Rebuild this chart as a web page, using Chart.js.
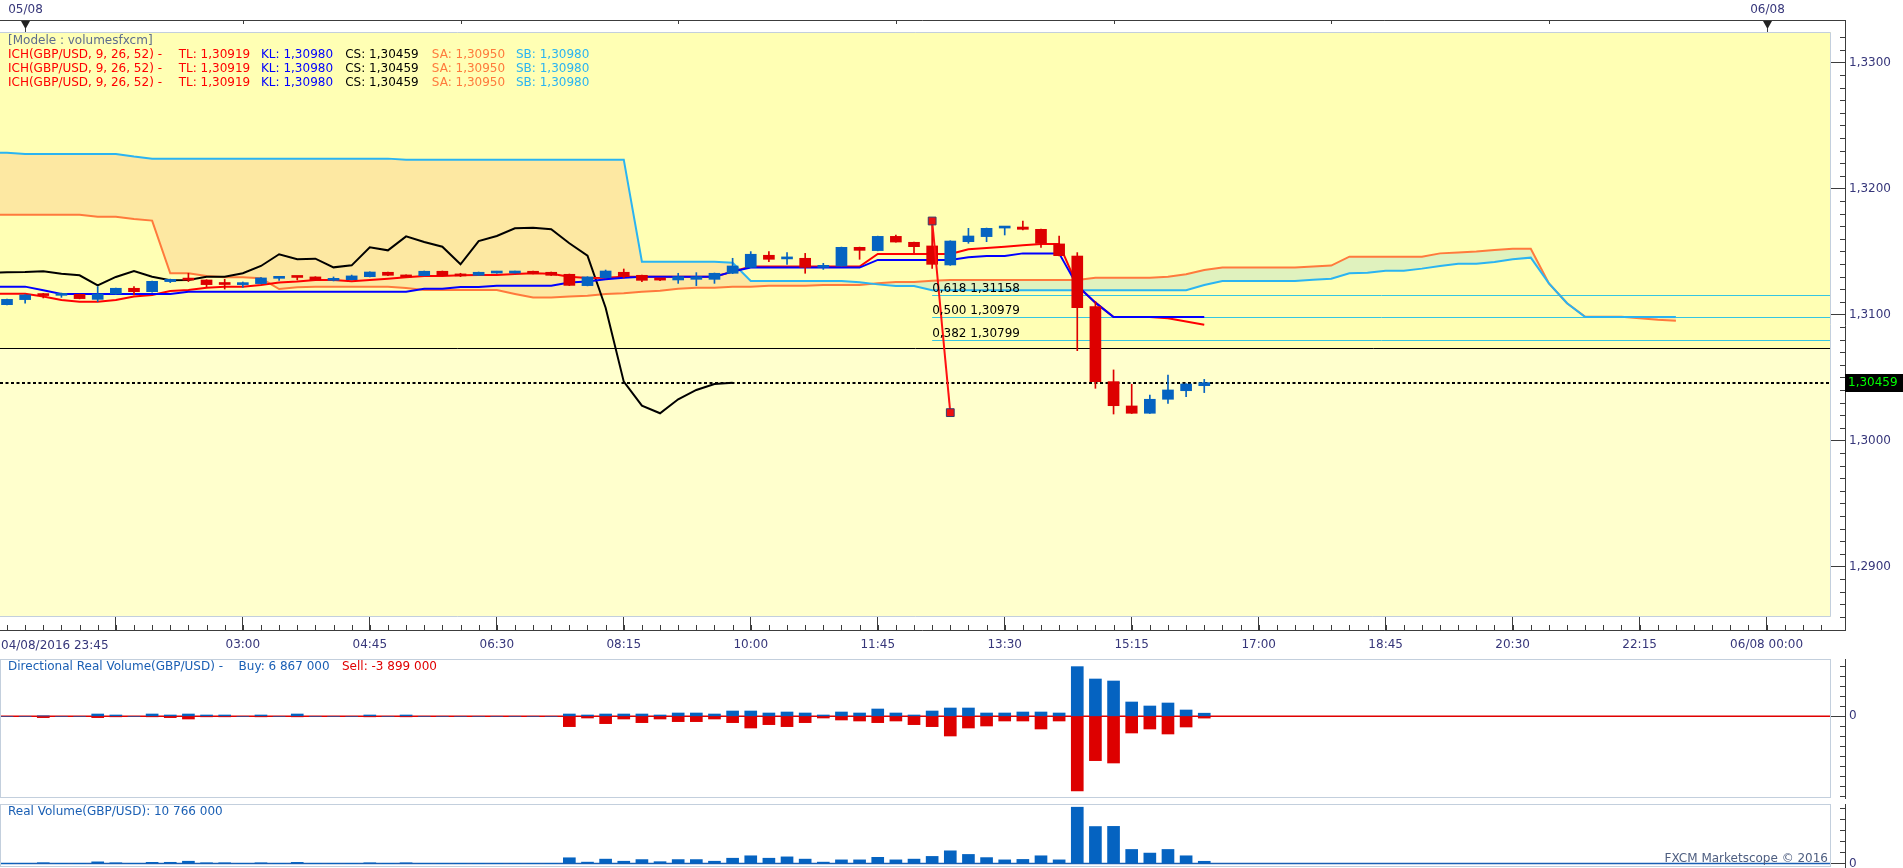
<!DOCTYPE html>
<html><head><meta charset="utf-8">
<script src="https://cdn.jsdelivr.net/npm/chart.js@4.4.1/dist/chart.umd.min.js"></script>
<style>
html,body{margin:0;padding:0;background:#fff;overflow:hidden;}
#wrap{position:relative;width:1903px;height:868px;background:#fff;}
canvas{position:absolute;left:0;}
</style></head><body>
<div id="wrap">
<canvas id="c0" width="1903" height="655" style="top:0px"></canvas>
<canvas id="c1" width="1903" height="145" style="top:655px"></canvas>
<canvas id="c2" width="1903" height="68" style="top:800px"></canvas>
</div>
<script>
// ---------------- DATA ----------------
// bar index 0 = 04/08/2016 23:45, one bar per 15 minutes
const xMin = -0.386, xMax = 100.55;
const xMajorIdx = [6, 13, 20, 27, 34, 41, 48, 55, 62, 69, 76, 83, 90, 97];
const xTickLabels = ['', '03:00', '04:45', '06:30', '08:15', '10:00', '11:45', '13:30', '15:15', '17:00', '18:45', '20:30', '22:15', '06/08 00:00'];
const firstBarLabel = '04/08/2016 23:45';
const topTickIdx = [1, 13, 25, 37, 49, 61, 73, 85, 97];
const dayMarkIdx = [1, 97];
const dayMarkLabels = ['05/08', '06/08'];

const priceMin = 1.28599, priceMax = 1.33242;
const priceTicks = [1.29, 1.30, 1.31, 1.32, 1.33];

const open = [
1.31078,1.31118,1.31153,1.31152,1.31160,1.31120,1.31163,1.31208,1.31181,1.31261,
1.31275,1.31274,1.31240,1.31237,1.31245,1.31287,1.31296,1.31298,1.31271,1.31276,
1.31300,1.31335,1.31313,1.31308,1.31343,1.31321,1.31311,1.31329,1.31329,1.31343,
1.31335,1.31319,1.31229,1.31292,1.31335,1.31311,1.31275,1.31274,1.31279,1.31279,
1.31327,1.31374,1.31470,1.31441,1.31446,1.31374,1.31385,1.31533,1.31507,1.31620,
1.31573,1.31544,1.31393,1.31578,1.31618,1.31686,1.31694,1.31676,1.31560,1.31464,
1.31062,1.30467,1.30274,1.30216,1.30327,1.30395,1.30435];
const high = [
1.31122,1.31157,1.31168,1.31170,1.31162,1.31221,1.31210,1.31221,1.31265,1.31281,
1.31327,1.31276,1.31279,1.31258,1.31292,1.31300,1.31298,1.31300,1.31298,1.31313,
1.31339,1.31337,1.31315,1.31345,1.31345,1.31327,1.31337,1.31343,1.31345,1.31345,
1.31337,1.31321,1.31300,1.31353,1.31361,1.31313,1.31279,1.31327,1.31332,1.31329,
1.31446,1.31499,1.31499,1.31491,1.31485,1.31406,1.31535,1.31535,1.31622,1.31631,
1.31575,1.31742,1.31585,1.31684,1.31686,1.31690,1.31742,1.31678,1.31623,1.31491,
1.31102,1.30560,1.30446,1.30361,1.30520,1.30450,1.30485];
const low = [
1.31075,1.31089,1.31131,1.31136,1.31124,1.31102,1.31160,1.31155,1.31178,1.31253,
1.31261,1.31221,1.31202,1.31216,1.31242,1.31271,1.31274,1.31272,1.31266,1.31274,
1.31298,1.31309,1.31296,1.31306,1.31306,1.31300,1.31309,1.31327,1.31327,1.31322,
1.31309,1.31229,1.31227,1.31290,1.31290,1.31261,1.31268,1.31247,1.31229,1.31247,
1.31324,1.31372,1.31419,1.31398,1.31327,1.31358,1.31383,1.31438,1.31505,1.31573,
1.31491,1.31366,1.31390,1.31565,1.31578,1.31631,1.31671,1.31533,1.31465,1.30713,
1.30414,1.30210,1.30214,1.30214,1.30295,1.30348,1.30380];
const close = [
1.31120,1.31155,1.31150,1.31168,1.31126,1.31163,1.31208,1.31181,1.31263,1.31279,
1.31273,1.31237,1.31238,1.31250,1.31290,1.31298,1.31294,1.31274,1.31282,1.31306,
1.31337,1.31311,1.31298,1.31343,1.31308,1.31306,1.31335,1.31337,1.31343,1.31324,
1.31311,1.31231,1.31298,1.31345,1.31300,1.31271,1.31273,1.31300,1.31300,1.31327,
1.31385,1.31478,1.31438,1.31443,1.31374,1.31390,1.31533,1.31509,1.31620,1.31575,
1.31538,1.31398,1.31583,1.31623,1.31684,1.31689,1.31676,1.31565,1.31467,1.31054,
1.30467,1.30276,1.30216,1.30327,1.30401,1.30448,1.30459];

// Ichimoku lines, first value is at bar index -1
const ichiStart = -1;
const tenkan = [
1.31165,1.31165,1.31165,1.31142,1.31115,1.31102,1.31102,1.31115,1.31142,1.31155,
1.31187,1.31194,1.31213,1.31221,1.31221,1.31234,1.31253,1.31261,1.31274,1.31274,
1.31263,1.31274,1.31284,1.31295,1.31306,1.31306,1.31311,1.31313,1.31313,1.31321,
1.31327,1.31324,1.31300,1.31290,1.31292,1.31300,1.31300,1.31300,1.31300,1.31300,
1.31300,1.31340,1.31380,1.31380,1.31380,1.31380,1.31380,1.31380,1.31380,1.31480,
1.31480,1.31480,1.31480,1.31480,1.31517,1.31528,1.31538,1.31549,1.31560,1.31560,
1.31229,1.31094,1.30980,1.30980,1.30980,1.30970,1.30944,1.30919];
const kijun = [
1.31221,1.31221,1.31221,1.31192,1.31163,1.31163,1.31163,1.31163,1.31163,1.31163,
1.31163,1.31181,1.31181,1.31181,1.31181,1.31181,1.31181,1.31181,1.31181,1.31181,
1.31181,1.31181,1.31181,1.31181,1.31205,1.31205,1.31218,1.31218,1.31229,1.31229,
1.31229,1.31229,1.31253,1.31261,1.31279,1.31292,1.31300,1.31300,1.31300,1.31300,
1.31300,1.31340,1.31372,1.31372,1.31372,1.31372,1.31372,1.31372,1.31372,1.31433,
1.31433,1.31433,1.31433,1.31433,1.31454,1.31464,1.31464,1.31485,1.31485,1.31485,
1.31229,1.31094,1.30980,1.30980,1.30980,1.30980,1.30980,1.30980];
const chikou = [
1.31330,1.31335,1.31337,1.31343,1.31324,1.31311,1.31231,1.31298,1.31345,1.31300,
1.31271,1.31273,1.31300,1.31300,1.31327,1.31385,1.31478,1.31438,1.31443,1.31374,
1.31390,1.31533,1.31509,1.31620,1.31575,1.31538,1.31398,1.31583,1.31623,1.31684,
1.31689,1.31676,1.31565,1.31467,1.31054,1.30467,1.30276,1.30216,1.30327,1.30401,
1.30448,1.30459];
const senkouA = [
1.31792,1.31792,1.31792,1.31792,1.31792,1.31792,1.31776,1.31776,1.31758,1.31745,
1.31327,1.31327,1.31306,1.31295,1.31295,1.31287,1.31202,1.31216,1.31221,1.31221,
1.31221,1.31221,1.31221,1.31210,1.31194,1.31194,1.31194,1.31194,1.31194,1.31163,
1.31134,1.31134,1.31142,1.31149,1.31163,1.31168,1.31181,1.31189,1.31205,1.31213,
1.31213,1.31221,1.31221,1.31229,1.31229,1.31229,1.31234,1.31234,1.31234,1.31247,
1.31258,1.31258,1.31268,1.31274,1.31274,1.31274,1.31274,1.31274,1.31274,1.31274,
1.31274,1.31292,1.31292,1.31292,1.31292,1.31300,1.31319,1.31353,1.31372,1.31372,
1.31372,1.31372,1.31372,1.31380,1.31388,1.31459,1.31459,1.31459,1.31459,1.31459,
1.31485,1.31491,1.31499,1.31512,1.31522,1.31522,1.31247,1.31089,1.30982,1.30982,
1.30982,1.30970,1.30958,1.30950];
const senkouB = [
1.32284,1.32284,1.32274,1.32274,1.32274,1.32274,1.32274,1.32274,1.32253,1.32237,
1.32237,1.32237,1.32237,1.32237,1.32237,1.32237,1.32237,1.32237,1.32237,1.32237,
1.32237,1.32237,1.32237,1.32229,1.32229,1.32229,1.32229,1.32229,1.32229,1.32229,
1.32229,1.32229,1.32229,1.32229,1.32229,1.32229,1.31419,1.31419,1.31419,1.31419,
1.31419,1.31411,1.31266,1.31266,1.31266,1.31266,1.31266,1.31266,1.31255,1.31239,
1.31226,1.31226,1.31192,1.31192,1.31192,1.31192,1.31192,1.31192,1.31192,1.31192,
1.31192,1.31192,1.31192,1.31192,1.31192,1.31192,1.31192,1.31234,1.31266,1.31266,
1.31266,1.31266,1.31266,1.31276,1.31284,1.31327,1.31332,1.31348,1.31348,1.31364,
1.31385,1.31403,1.31403,1.31417,1.31438,1.31451,1.31247,1.31089,1.30980,1.30980,
1.30980,1.30980,1.30980,1.30980];

// Fibonacci retracement
const fibAnchorIdx = [51, 52];
const fibAnchorPrice = [1.31742, 1.30221];
const fibRatios = ['0,618', '0,500', '0,382'];
const fibPrices = [1.31158, 1.30979, 1.30799];
const levelPrice = 1.30732;   // black horizontal line
const lastPrice = 1.30459;    // dotted last-price line

// Volumes (millions), bar index 0..66
const buyVol = [
0,0,0.8,0,0,5.1,2.9,0,5.1,2.9,
5.1,2.9,2.9,0,2.9,0,5.1,0,0,0,
2.9,0,2.9,0,0,0,0,0,0,0,
0,5.1,2.9,5.1,5.1,5.1,2.9,7.3,7.3,5.1,
11.7,11.7,7.3,9.5,7.3,2.9,9.5,7.3,16.1,7.3,
2.9,11.7,18.3,18.3,7.3,7.3,9.5,9.5,7.3,109.3,
82.1,77.7,31.5,22.7,29.3,13.9,6.867];
const sellVol = [
0,0,2.9,0,0,2.9,0.5,0,0.6,2.9,
5.9,0.5,0.5,0,0.4,0,0.4,0,0,0,
0.4,0,0.4,0,0,0,0,0,0,0,
0,22.7,3.7,16.1,5.9,13.9,5.9,11.7,11.7,5.9,
13.9,25.7,18.3,22.7,13.9,3.7,8.1,10.3,13.9,10.3,
18.3,22.7,43.3,25.7,21.3,10.3,10.3,27.9,10.3,164.3,
97.5,102.7,36.7,27.9,38.9,23.5,3.899];
const totalVol = [
0,0,3.7,0,0,8.0,3.4,0,5.7,5.8,
11.0,3.4,3.4,0,3.3,0,5.5,0,0,0,
3.3,0,3.3,0,0,0,0,0,0,0,
0,27.8,6.6,21.2,11.0,19.0,8.8,19.0,19.0,11.0,
25.6,37.4,25.6,32.2,21.2,6.6,17.6,17.6,30.0,17.6,
21.2,34.4,61.6,44.0,28.6,17.6,19.8,37.4,17.6,273.6,
179.6,180.4,68.2,50.6,68.2,37.4,10.766];
const dirVolMin = -177.5, dirVolMax = 123.9, dirVolMinorStep = 22;
const realVolMin = -12.2, realVolMax = 284.3, realVolMinorStep = 54;

// Texts
const headerModel = '[Modele : volumesfxcm]';
const headerSegs = [
  ['ICH(GBP/USD, 9, 26, 52) -', '#ff0000'],
  ['TL: 1,30919', '#ff0000'],
  ['KL: 1,30980', '#0000ff'],
  ['CS: 1,30459', '#000000'],
  ['SA: 1,30950', '#ff7a3c'],
  ['SB: 1,30980', '#2ab4f2']];
const dirTitle = ['Directional Real Volume(GBP/USD) -', 'Buy: 6 867 000', 'Sell: -3 899 000'];
const realTitle = 'Real Volume(GBP/USD): 10 766 000';
const watermark = 'FXCM Marketscope \u00A9 2016';

// ---------------- STYLE ----------------
const FAM = '"DejaVu Sans", Verdana, sans-serif';
const F12 = '12px ' + FAM;
const BLUE = '#0563c1', RED = '#dd0000';
const AXIS_TXT = '#36367a', AXIS_LINE = '#3c3c3c', PANEL_BORDER = '#c3cfdd';
const BG_UPPER = '#ffffb4', BG_LOWER = '#ffffcd';
const CLOUD_UP = '#e0f2be', CLOUD_DOWN = '#fde8a2';
const FIB_COLOR = '#36c6e2';
const VOL_TXT = '#1a5fb4';
const RIGHT_AXIS_X = 1845.5;

Chart.defaults.font.family = FAM;
Chart.defaults.font.size = 12;

const fmtPrice = (v, d) => v.toFixed(d).replace('.', ',');
const xy = (arr, start) => arr.map((v, k) => ({x: start + k, y: v}));
const isUp = k => close[k] >= open[k];

function text(ctx, s, x, y, color, align, base) {
  ctx.fillStyle = color; ctx.textAlign = align || 'left'; ctx.textBaseline = base || 'middle';
  ctx.font = F12; ctx.fillText(s, x, y);
}
function hline(ctx, x1, x2, y) { ctx.beginPath(); ctx.moveTo(x1, y); ctx.lineTo(x2, y); ctx.stroke(); }
function vline(ctx, x, y1, y2) { ctx.beginPath(); ctx.moveTo(x, y1); ctx.lineTo(x, y2); ctx.stroke(); }
function fitX(h) { return s => { s.height = h; s.paddingLeft = 0; s.paddingRight = 0; }; }
function fitY(w) { return s => { s.width = w; s.paddingTop = 0; s.paddingBottom = 0; }; }

// ---------------- MAIN CHART ----------------
const mainDeco = {
  id: 'mainDeco',
  beforeDraw(chart) {
    const {ctx, chartArea: a, scales: {y}} = chart;
    ctx.save();
    ctx.fillStyle = '#ffffff'; ctx.fillRect(0, 0, chart.width, chart.height);
    const ys = Math.round(y.getPixelForValue(levelPrice));
    ctx.fillStyle = BG_UPPER; ctx.fillRect(a.left, a.top, a.right - a.left, ys - a.top);
    ctx.fillStyle = BG_LOWER; ctx.fillRect(a.left, ys, a.right - a.left, a.bottom - ys);
    ctx.restore();
  },
  beforeDatasetsDraw(chart) {
    const {ctx, chartArea: a, scales: {x, y}} = chart;
    ctx.save();
    const fx = x.getPixelForValue(fibAnchorIdx[0]);
    ctx.strokeStyle = FIB_COLOR; ctx.lineWidth = 1;
    fibPrices.forEach(p => hline(ctx, fx, a.right, Math.round(y.getPixelForValue(p)) + 0.5));
    ctx.strokeStyle = '#000'; ctx.lineWidth = 1;
    hline(ctx, a.left, a.right, Math.round(y.getPixelForValue(levelPrice)) + 0.5);
    ctx.lineWidth = 2; ctx.setLineDash([3, 2.5]);
    hline(ctx, a.left, a.right, Math.round(y.getPixelForValue(lastPrice)));
    ctx.restore();
  },
  afterDatasetsDraw(chart) {
    const {ctx, scales: {x, y}} = chart;
    ctx.save();
    const fx = x.getPixelForValue(fibAnchorIdx[0]);
    fibPrices.forEach((p, k) => text(ctx, fibRatios[k] + ' ' + fmtPrice(p, 5), fx, y.getPixelForValue(p) - 3, '#000', 'left', 'alphabetic'));
    text(ctx, headerModel, 8, 40.5, '#5d6d8e');
    const segX = [8, 178.7, 261, 345.2, 431.8, 516];
    [54.5, 68.5, 82.5].forEach(ry => headerSegs.forEach((s, k) => text(ctx, s[0], segX[k], ry, s[1])));
    ctx.restore();
  },
  afterDraw(chart) {
    const {ctx, chartArea: a, scales: {x, y}} = chart;
    ctx.save();
    ctx.strokeStyle = PANEL_BORDER; ctx.lineWidth = 1;
    ctx.beginPath();
    ctx.moveTo(a.left, a.top + 0.5); ctx.lineTo(a.right - 0.5, a.top + 0.5);
    ctx.lineTo(a.right - 0.5, a.bottom - 0.5); ctx.lineTo(a.left, a.bottom - 0.5);
    ctx.stroke();
    ctx.strokeStyle = AXIS_LINE; ctx.lineWidth = 1;
    // top axis
    hline(ctx, 0, RIGHT_AXIS_X, 20.5);
    topTickIdx.forEach(i => vline(ctx, Math.round(x.getPixelForValue(i)) + 0.5, 20, 24));
    dayMarkIdx.forEach((i, k) => {
      const px = Math.round(x.getPixelForValue(i)) + 0.5;
      ctx.fillStyle = '#222';
      ctx.beginPath(); ctx.moveTo(px - 4.5, 21); ctx.lineTo(px + 4.5, 21); ctx.lineTo(px, 29); ctx.closePath(); ctx.fill();
      vline(ctx, px, 28, 32);
      text(ctx, dayMarkLabels[k], px, 9.5, AXIS_TXT, 'center');
    });
    // bottom axis line + minor ticks
    hline(ctx, 0, RIGHT_AXIS_X, 630.5);
    for (let i = Math.ceil(xMin); i <= Math.floor(xMax); i++) vline(ctx, Math.round(x.getPixelForValue(i)) + 0.5, 625, 631);
    text(ctx, firstBarLabel, a.left + 1, 646, AXIS_TXT, 'left');
    // right axis line + minor ticks
    vline(ctx, RIGHT_AXIS_X, 20, 631);
    for (let k = Math.ceil(priceMin * 1000); k <= Math.floor(priceMax * 1000); k++) {
      if (k % 10 === 0) continue;
      hline(ctx, 1840, RIGHT_AXIS_X, Math.round(y.getPixelForValue(k / 1000)) + 0.5);
    }
    // last price box
    const ly = y.getPixelForValue(lastPrice);
    ctx.fillStyle = '#000'; ctx.fillRect(1845, Math.round(ly) - 9, 58, 18);
    text(ctx, fmtPrice(lastPrice, 5), 1848, ly + 0.5, '#00ff00', 'left');
    ctx.restore();
  }
};

new Chart(document.getElementById('c0'), {
  type: 'bar',
  data: {
    datasets: [
      {type: 'line', label: 'SA', data: xy(senkouA, ichiStart), borderColor: '#ff7a3c', borderWidth: 2, pointRadius: 0, tension: 0,
       fill: {target: 1, above: CLOUD_UP, below: CLOUD_DOWN}, order: 6},
      {type: 'line', label: 'SB', data: xy(senkouB, ichiStart), borderColor: '#2ab4f2', borderWidth: 2, pointRadius: 0, tension: 0, fill: false, order: 5},
      {type: 'line', label: 'CS', data: xy(chikou, ichiStart), borderColor: '#000000', borderWidth: 2, pointRadius: 0, tension: 0, fill: false, order: 4},
      {type: 'line', label: 'TL', data: xy(tenkan, ichiStart), borderColor: '#ff0000', borderWidth: 2, pointRadius: 0, tension: 0, fill: false, order: 3},
      {type: 'line', label: 'KL', data: xy(kijun, ichiStart), borderColor: '#0000ff', borderWidth: 2, pointRadius: 0, tension: 0, fill: false, order: 2},
      {type: 'bar', label: 'wick', data: low.map((l, k) => ({x: k, y: [l, high[k]]})),
       backgroundColor: c => isUp(c.dataIndex) ? BLUE : RED, barThickness: 1, grouped: false, order: 1},
      {type: 'bar', label: 'body', data: open.map((o, k) => ({x: k, y: [o, close[k]]})),
       backgroundColor: c => isUp(c.dataIndex) ? BLUE : RED, barThickness: 11, grouped: false, minBarLength: 2, order: 0},
      {type: 'line', label: 'fib', data: fibAnchorIdx.map((v, k) => ({x: v, y: fibAnchorPrice[k]})),
       borderColor: '#ff1010', borderWidth: 2, pointStyle: 'rect', pointRadius: 5.5, pointBackgroundColor: '#ee1111',
       pointBorderColor: '#3a3a6a', pointBorderWidth: 1, tension: 0, fill: false, order: -1}
    ]
  },
  options: {
    responsive: false, animation: false, devicePixelRatio: 1,
    layout: {autoPadding: false, padding: {top: 32, left: 0, right: 0, bottom: 0}},
    plugins: {legend: {display: false}, tooltip: {enabled: false}, title: {display: false}},
    scales: {
      x: {type: 'linear', min: xMin, max: xMax, offset: false,
          grid: {offset: false, drawOnChartArea: false, drawTicks: true, tickLength: 14, color: AXIS_LINE},
          border: {display: false},
          afterBuildTicks: s => { s.ticks = xMajorIdx.map(v => ({value: v})); },
          afterFit: fitX(38),
          ticks: {autoSkip: false, maxRotation: 0, padding: 7, color: AXIS_TXT, font: {size: 12},
                  callback: (v, i) => xTickLabels[i]}},
      y: {type: 'linear', position: 'right', min: priceMin, max: priceMax,
          grid: {drawOnChartArea: false, drawTicks: true, tickLength: 14, color: AXIS_LINE},
          border: {display: false},
          afterBuildTicks: s => { s.ticks = priceTicks.map(v => ({value: v})); },
          afterFit: fitY(72),
          ticks: {padding: 4, color: AXIS_TXT, font: {size: 12}, callback: v => fmtPrice(v, 4)}}
    }
  },
  plugins: [mainDeco]
});

// ---------------- VOLUME PANELS ----------------
function panelDeco(id, zeroColor, minorStep, drawTitle) {
  return {
    id,
    beforeDraw(chart) {
      const {ctx} = chart; ctx.save(); ctx.fillStyle = '#fff'; ctx.fillRect(0, 0, chart.width, chart.height); ctx.restore();
    },
    beforeDatasetsDraw(chart) {
      const {ctx, chartArea: a, scales: {y}} = chart;
      ctx.save(); ctx.strokeStyle = zeroColor; ctx.lineWidth = 1.5;
      hline(ctx, a.left, a.right, y.getPixelForValue(0)); ctx.restore();
    },
    afterDraw(chart) {
      const {ctx, chartArea: a, scales: {y}} = chart;
      ctx.save();
      ctx.strokeStyle = PANEL_BORDER; ctx.lineWidth = 1;
      ctx.strokeRect(a.left + 0.5, a.top - 0.5, a.right - a.left - 1, a.bottom - a.top + 1);
      ctx.strokeStyle = AXIS_LINE;
      vline(ctx, RIGHT_AXIS_X, a.top - 1, a.bottom + 2);
      for (let k = Math.ceil(y.min / minorStep); k <= Math.floor(y.max / minorStep); k++) {
        if (k === 0) continue;
        hline(ctx, 1840, RIGHT_AXIS_X, Math.round(y.getPixelForValue(k * minorStep)) + 0.5);
      }
      drawTitle(ctx, chart);
      ctx.restore();
    }
  };
}
function panelOptions(yMin, yMax, padTop, padBottom) {
  return {
    responsive: false, animation: false, devicePixelRatio: 1,
    layout: {autoPadding: false, padding: {top: padTop, bottom: padBottom, left: 0, right: 0}},
    plugins: {legend: {display: false}, tooltip: {enabled: false}},
    scales: {
      x: {type: 'linear', min: xMin, max: xMax, offset: false, display: false, grid: {offset: false}},
      y: {type: 'linear', position: 'right', min: yMin, max: yMax,
          grid: {drawOnChartArea: false, drawTicks: true, tickLength: 14, color: AXIS_LINE},
          border: {display: false},
          afterBuildTicks: s => { s.ticks = [{value: 0}]; },
          afterFit: fitY(72),
          ticks: {padding: 4, color: AXIS_TXT, font: {size: 12}, callback: () => '0'}}
    }
  };
}

new Chart(document.getElementById('c1'), {
  type: 'bar',
  data: {datasets: [
    {data: buyVol.map((v, k) => ({x: k, y: v})), backgroundColor: BLUE, barThickness: 12, grouped: false},
    {data: sellVol.map((v, k) => ({x: k, y: -v})), backgroundColor: RED, barThickness: 12, grouped: false}
  ]},
  options: panelOptions(dirVolMin, dirVolMax, 5, 3),
  plugins: [panelDeco('dirDeco', '#e00000', dirVolMinorStep, (ctx) => {
    text(ctx, dirTitle[0], 8, 12, VOL_TXT);
    text(ctx, dirTitle[1], 238.6, 12, VOL_TXT);
    text(ctx, dirTitle[2], 342, 12, '#e00000');
  })]
});

new Chart(document.getElementById('c2'), {
  type: 'bar',
  data: {datasets: [
    {data: totalVol.map((v, k) => ({x: k, y: v})), backgroundColor: BLUE, barThickness: 12, grouped: false}
  ]},
  options: panelOptions(realVolMin, realVolMax, 5, 2),
  plugins: [panelDeco('realDeco', VOL_TXT, realVolMinorStep, (ctx) => {
    text(ctx, realTitle, 8, 11.7, VOL_TXT);
    text(ctx, watermark, 1828, 59, '#4e5e80', 'right');
  })]
});
</script>
</body></html>
